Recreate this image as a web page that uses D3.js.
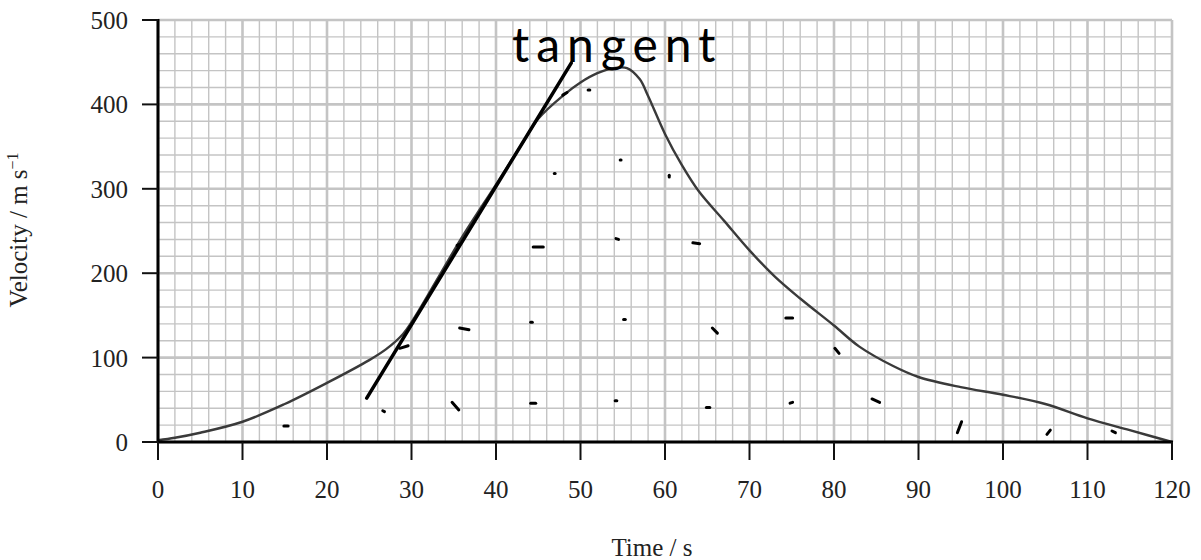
<!DOCTYPE html>
<html>
<head>
<meta charset="utf-8">
<script src="https://cdn.jsdelivr.net/npm/d3@7"></script>
<style>
  body { margin: 0; background: #fff; }
  svg { display: block; }
</style>
</head>
<body>
<div id="chart"></div>
<script>
// Velocity curve
const times = [0, 2, 5, 10, 15, 20, 25, 27, 29, 30, 31, 33, 36, 40, 43, 45, 48, 50, 52, 54, 55.5, 57, 58, 60, 62, 64, 67, 70, 73, 76, 80, 83, 87, 90, 95, 100, 105, 110, 115, 120];
const velocities = [2, 5, 11, 24, 45, 70, 97, 110, 128, 142, 158, 192, 243, 305, 352, 383, 411, 426, 437, 443, 443, 430, 410, 365, 328, 297, 262, 227, 196, 170, 138, 113, 90, 77, 65, 56, 45, 28, 14, 0];

// hand-drawn tangent: [t1, v1, t2, v2]
const tangent = [24.7, 52, 48.9, 449];

// stray pen marks [t1, v1, t2, v2]
const penMarks = [
  [14.9, 19, 15.4, 19], [26.6, 37, 26.8, 36], [28.6, 111, 29.6, 114], [35.7, 135, 36.8, 133],
  [34.8, 47, 35.6, 38], [35.4, 233, 35.6, 234], [44.4, 231, 45.6, 231], [54.2, 241, 54.5, 240],
  [46.9, 318, 47.0, 318], [54.7, 334, 54.8, 334], [47.9, 411, 48.4, 414], [50.9, 417, 51.1, 417],
  [60.5, 316, 60.5, 314], [63.3, 236, 64.1, 235], [55.1, 145, 55.3, 145], [65.6, 135, 66.2, 129],
  [74.3, 147, 75.1, 147], [80.1, 111, 80.6, 105], [84.5, 51, 85.4, 47], [94.6, 11, 95.1, 24],
  [105.2, 9, 105.6, 14], [112.9, 13, 113.3, 11], [44.1, 46, 44.7, 46], [54.1, 49, 54.3, 49],
  [64.9, 41, 65.3, 41], [74.8, 46, 75.1, 47], [44.1, 142, 44.3, 142]
];

const xTicks = d3.range(0, 121, 10);
const yTicks = d3.range(0, 501, 100);

const width = 1201, height = 560;
const margin = { top: 20, right: 29, bottom: 118, left: 158 };

const svg = d3.select("#chart").append("svg")
  .attr("width", width)
  .attr("height", height);

const x = d3.scaleLinear().domain([0, 120]).range([margin.left, width - margin.right]);
const y = d3.scaleLinear().domain([0, 500]).range([height - margin.bottom, margin.top]);

// Graph paper grid
const grid = svg.append("g");
grid.selectAll(".vminor")
  .data(d3.range(0, 121, 2))
  .enter().append("line")
  .attr("x1", d => x(d)).attr("x2", d => x(d))
  .attr("y1", y(0)).attr("y2", y(500))
  .attr("stroke", "#c4c4c4")
  .attr("stroke-width", d => d % 10 === 0 ? 2.6 : 1.4);

grid.selectAll(".hminor")
  .data(d3.range(0, 501, 20))
  .enter().append("line")
  .attr("x1", x(0)).attr("x2", x(120))
  .attr("y1", d => y(d)).attr("y2", d => y(d))
  .attr("stroke", "#c4c4c4")
  .attr("stroke-width", d => d % 100 === 0 ? 2.6 : 1.4);

// Velocity curve
const line = d3.line()
  .x((d, i) => x(times[i]))
  .y(d => y(d))
  .curve(d3.curveCatmullRom.alpha(0.5));

svg.append("path")
  .attr("d", line(velocities))
  .attr("fill", "none")
  .attr("stroke", "#3a3a3a")
  .attr("stroke-width", 2.4);

// Axes
svg.append("line")
  .attr("x1", x(0)).attr("x2", x(0))
  .attr("y1", y(500) - 1).attr("y2", y(0) + 1)
  .attr("stroke", "#000").attr("stroke-width", 3);
svg.append("line")
  .attr("x1", x(0) - 1).attr("x2", x(120) + 1)
  .attr("y1", y(0)).attr("y2", y(0))
  .attr("stroke", "#000").attr("stroke-width", 3);

svg.selectAll(".xtick")
  .data(xTicks)
  .enter().append("line")
  .attr("x1", d => x(d)).attr("x2", d => x(d))
  .attr("y1", y(0)).attr("y2", y(0) + 18)
  .attr("stroke", "#111").attr("stroke-width", 2);

svg.selectAll(".ytick")
  .data(yTicks)
  .enter().append("line")
  .attr("x1", x(0) - 16).attr("x2", x(0))
  .attr("y1", d => y(d)).attr("y2", d => y(d))
  .attr("stroke", "#111").attr("stroke-width", 2);

const serif = "'Liberation Serif', 'Times New Roman', serif";

svg.selectAll(".xlabel")
  .data(xTicks)
  .enter().append("text")
  .attr("x", d => x(d))
  .attr("y", y(0) + 56)
  .attr("text-anchor", "middle")
  .attr("font-family", serif)
  .attr("font-size", 25)
  .attr("fill", "#222")
  .text(d => d);

svg.selectAll(".ylabel")
  .data(yTicks)
  .enter().append("text")
  .attr("x", x(0) - 30)
  .attr("y", d => y(d) + 9)
  .attr("text-anchor", "end")
  .attr("font-family", serif)
  .attr("font-size", 25)
  .attr("fill", "#222")
  .text(d => d);

svg.append("text")
  .attr("x", 652)
  .attr("y", 556)
  .attr("text-anchor", "middle")
  .attr("font-family", serif)
  .attr("font-size", 25)
  .attr("fill", "#222")
  .text("Time / s");

const yTitle = svg.append("text")
  .attr("transform", "translate(27,230) rotate(-90)")
  .attr("text-anchor", "middle")
  .attr("font-family", serif)
  .attr("font-size", 25)
  .attr("fill", "#222");
yTitle.append("tspan").text("Velocity / m s");
yTitle.append("tspan").attr("dy", -9).attr("font-size", 16).text("\u22121");

// Tangent line and pen marks
svg.append("line")
  .attr("x1", x(tangent[0])).attr("y1", y(tangent[1]))
  .attr("x2", x(tangent[2])).attr("y2", y(tangent[3]))
  .attr("stroke", "#000").attr("stroke-width", 3.5)
  .attr("stroke-linecap", "round");

svg.selectAll(".mark")
  .data(penMarks)
  .enter().append("line")
  .attr("x1", d => x(d[0])).attr("y1", d => y(d[1]))
  .attr("x2", d => x(d[2])).attr("y2", d => y(d[3]))
  .attr("stroke", "#000").attr("stroke-width", 3)
  .attr("stroke-linecap", "round");

svg.append("text")
  .attr("x", x(41.9))
  .attr("y", y(450))
  .attr("font-family", "Lato, 'Open Sans', sans-serif")
  .attr("font-weight", 400)
  .attr("font-size", 48)
  .attr("letter-spacing", 7)
  .attr("fill", "#000")
  .text("tangent");
</script>
</body>
</html>
